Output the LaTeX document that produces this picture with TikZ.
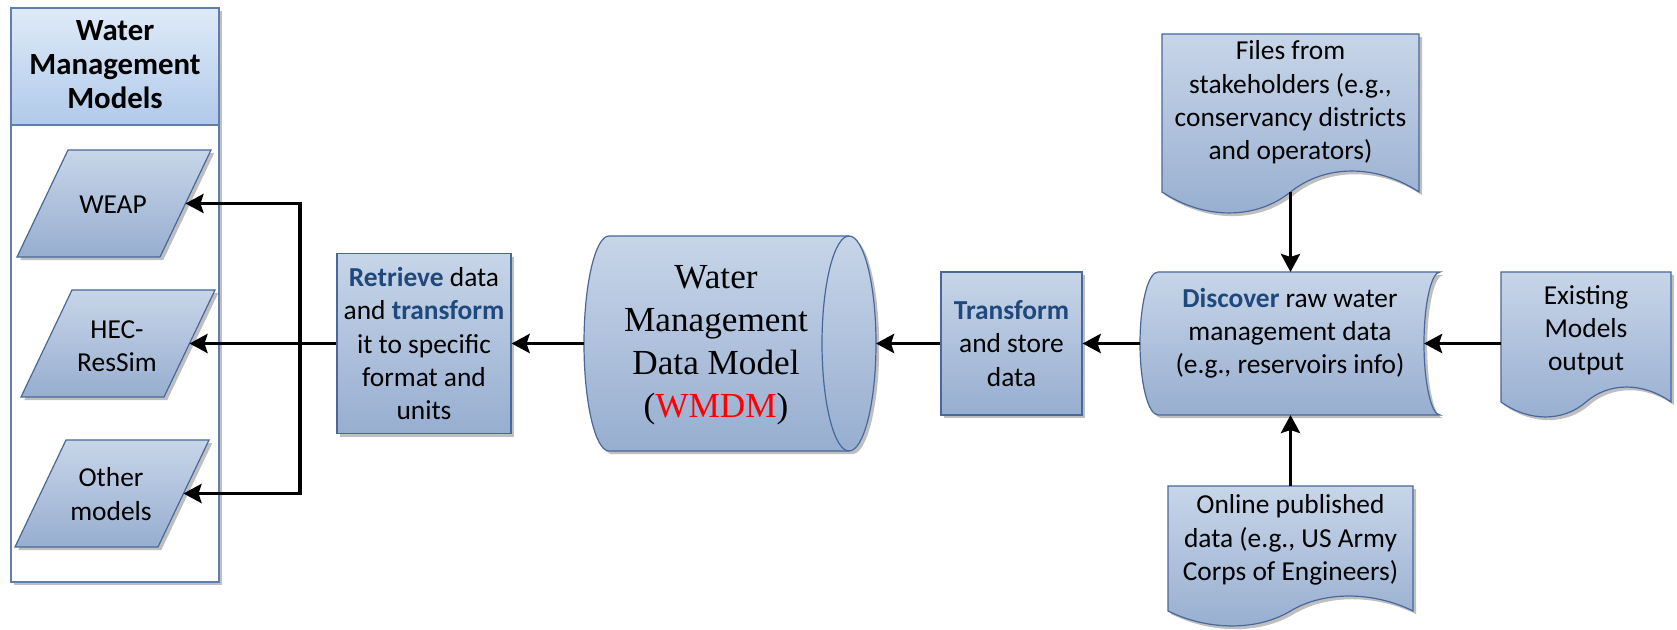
\documentclass[tikz,border=0pt]{standalone}
\usepackage{fontspec}
\setmainfont{Carlito}
\newfontfamily\timesfont{Liberation Serif}
\usetikzlibrary{arrows.meta,shadows}

\definecolor{boxtop}{RGB}{199,213,232}
\definecolor{boxbot}{RGB}{151,174,208}
\definecolor{boxline}{RGB}{72,104,155}
\definecolor{panelline}{RGB}{95,125,175}
\definecolor{headtop}{RGB}{223,234,248}
\definecolor{headbot}{RGB}{176,202,234}
\definecolor{keyblue}{RGB}{31,73,125}

\tikzset{
  boxbody/.style={draw=boxline, line width=0.6pt, top color=boxtop, bottom color=boxbot,
    drop shadow={shadow xshift=1.6pt, shadow yshift=-1.6pt, fill=black!50, opacity=0.5}},
  txt/.style={font=\fontsize{13.7}{16.6}\selectfont, align=center, inner sep=0pt},
  flow/.style={line width=1.9pt, -{Stealth[length=9pt,width=9.5pt,inset=1.5pt]}},
  wire/.style={line width=1.9pt},
}
\newcommand\kw[1]{\textbf{\color{keyblue}#1}}

% document shape with a wavy lower edge: left, right, top, base, amplitude
\newcommand\docpath[5]{%
  \pgfmathsetmacro\dhw{(#2-#1)/2}%
  \pgfmathsetmacro\dM{(#1+#2)/2}%
  \pgfmathsetmacro\dA{1.33*#5}%
  \path[boxbody] (#1,#3) -- (#2,#3) -- (#2,#4)
    .. controls ({\dM+0.67*\dhw},{#4-\dA}) and ({\dM+0.27*\dhw},{#4-\dA}) .. (\dM,#4)
    .. controls ({#1+0.73*\dhw},{#4+\dA}) and ({#1+0.33*\dhw},{#4+\dA}) .. (#1,#4) -- cycle;}

\begin{document}
\begin{tikzpicture}[x=0.5pt, y=-0.5pt]
\useasboundingbox (0,0) rectangle (1677,630);

% ---- model panel ----
\path[draw=panelline, line width=0.6pt, fill=white,
  drop shadow={shadow xshift=1.6pt, shadow yshift=-1.6pt, fill=black!50, opacity=0.5}]
  (11,8) rectangle (219,582);
\path[draw=panelline, line width=0.6pt, top color=headtop, bottom color=headbot]
  (11,8) rectangle (219,125);
\node[txt, font=\fontsize{15.4}{17}\selectfont\bfseries] (head) at (115,65)
  {Water\\Management\\Models};

\path[boxbody] (68,150) -- (211,150) -- (160,257) -- (17,257) -- cycle;
\node[txt] (weap) at (113,205) {WEAP};
\coordinate (weapIn) at (185.5,203.5);

\path[boxbody] (72,290) -- (215,290) -- (164,397) -- (21,397) -- cycle;
\node[txt] (hec) at (117,346) {HEC-\\ResSim};
\coordinate (hecIn) at (189.5,343.5);

\path[boxbody] (66,440) -- (209,440) -- (158,547) -- (15,547) -- cycle;
\node[txt] (other) at (111,494) {Other\\models};
\coordinate (otherIn) at (183.5,493.5);

% ---- retrieve step ----
\node[boxbody, txt, minimum width=87pt, minimum height=90pt] (retrieve) at (424,343.5)
  {\kw{Retrieve} data\\and \kw{transform}\\it to specific\\format and\\units};

% ---- data model store ----
\path[boxbody] (609,236) -- (849,236)
  .. controls (863.9,236) and (876,284.7) .. (876,343.5)
  .. controls (876,402.3) and (863.9,451) .. (849,451)
  -- (609,451)
  .. controls (595.2,451) and (584,402.3) .. (584,343.5)
  .. controls (584,284.7) and (595.2,236) .. (609,236) -- cycle;
\draw[boxline, line width=0.6pt] (849,236)
  .. controls (834.1,236) and (822,284.7) .. (822,343.5)
  .. controls (822,402.3) and (834.1,451) .. (849,451);
\node[txt, font=\fontsize{17.6}{21.5}\timesfont] (wmdm) at (716,345)
  {Water\\Management\\Data Model\\(\textcolor{red}{WMDM})};
\coordinate (cylE) at (876,343.5);
\coordinate (cylW) at (584,343.5);

% ---- transform step ----
\node[boxbody, txt, minimum width=70.5pt, minimum height=71.5pt] (transform) at (1011.5,343.5)
  {\kw{Transform}\\and store\\data};

% ---- discovery step ----
\path[boxbody] (1158,272) -- (1440,272)
  .. controls (1431.2,272) and (1424,304) .. (1424,343.5)
  .. controls (1424,383) and (1431.2,415) .. (1440,415)
  -- (1158,415)
  .. controls (1148.1,415) and (1140,383) .. (1140,343.5)
  .. controls (1140,304) and (1148.1,272) .. (1158,272) -- cycle;
\node[txt] (disc) at (1290,333) {\kw{Discover} raw water\\management data\\(e.g., reservoirs info)};
\coordinate (discTop) at (1290.5,272);
\coordinate (discBot) at (1290.5,415);
\coordinate (discE) at (1424,343.5);
\coordinate (discW) at (1140,343.5);

% ---- data sources ----
\docpath{1162}{1419}{34}{192}{21}
\node[txt] (files) at (1290.5,102.5) {Files from\\stakeholders (e.g.,\\conservancy districts\\and operators)};
\coordinate (filesOut) at (1290.5,192);

\docpath{1168}{1413}{486}{611}{15}
\node[txt] (online) at (1290.5,540) {Online published\\data (e.g., US Army\\Corps of Engineers)};
\coordinate (onlineOut) at (1290.5,486);

\docpath{1501}{1671}{272}{402}{15}
\node[txt] (exist) at (1586,330) {Existing\\Models\\output};
\coordinate (existOut) at (1501,343.5);

% ---- connectors ----
\draw[flow] (filesOut) -- (discTop);
\draw[flow] (onlineOut) -- (discBot);
\draw[flow] (existOut) -- (discE);
\draw[flow] (discW) -- (transform.east);
\draw[flow] (transform.west) -- (cylE);
\draw[flow] (cylW) -- (retrieve.east);

\coordinate (busTop) at (300,203.5);
\coordinate (busMid) at (300,343.5);
\coordinate (busBot) at (300,493.5);
\draw[wire] (retrieve.west) -- (busMid);
\draw[wire, line cap=rect] (busTop) -- (busBot);
\draw[flow] (busTop) -- (weapIn);
\draw[flow] (busMid) -- (hecIn);
\draw[flow] (busBot) -- (otherIn);
\end{tikzpicture}
\end{document}
